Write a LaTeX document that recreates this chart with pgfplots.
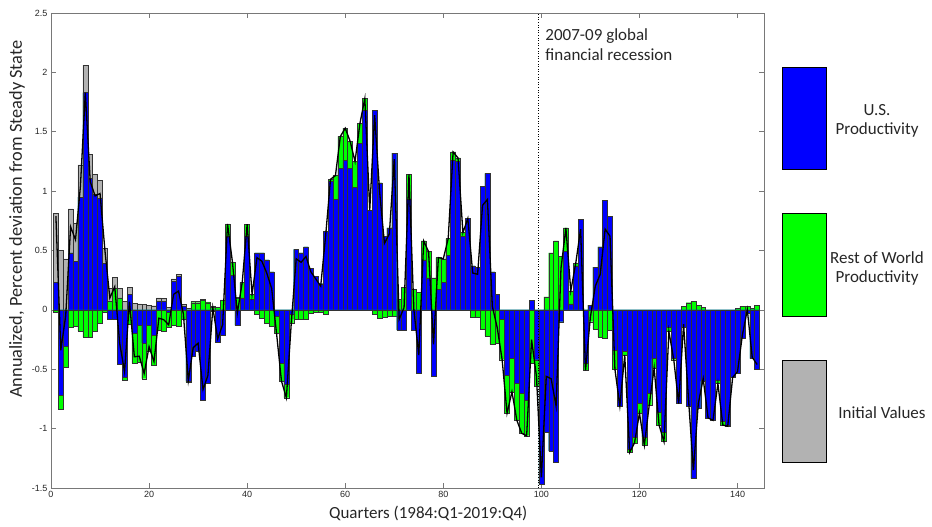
\documentclass[border=0pt]{standalone}
\usepackage{fontspec}
\setmainfont{Carlito}
\newfontfamily\ticksfont{Liberation Sans}
\usepackage{pgfplots}
\usepackage{pgfplotstable}
\pgfplotsset{compat=1.18}
\definecolor{usblue}{RGB}{0,0,255}
\definecolor{rowgreen}{RGB}{0,255,0}
\definecolor{initgray}{RGB}{178,178,178}
\definecolor{axgray}{RGB}{120,120,120}

% k = quarter, b = U.S. productivity, g = rest of world, a = initial values,
% d = gap between the black line and the sum of the bars
\pgfplotstableread{
k b g a d
1 0.23 -0.02 0.58 0
2 -0.72 -0.12 0.50 0
3 -0.31 -0.17 0.43 0
4 0.48 -0.15 0.37 0
5 0.41 -0.14 0.32 0
6 0.95 -0.18 0.27 0
7 1.83 -0.23 0.23 0
8 1.11 -0.23 0.20 0
9 0.97 -0.18 0.17 0
10 0.94 -0.11 0.15 0
11 0.39 -0.02 0.13 0
12 -0.08 0.07 0.11 0
13 -0.08 0.18 0.095 0
14 -0.46 0.10 0.08 0
15 -0.57 -0.02 0.07 0
16 0.13 -0.12 0.06 0
17 -0.20 -0.25 0.055 0
18 -0.13 -0.31 0.05 0
19 -0.28 -0.30 0.045 0
20 -0.13 -0.22 0.04 0
21 -0.21 -0.26 0.035 0
22 0.07 -0.17 0.03 0
23 0.07 -0.18 0.027 0
24 -0.02 -0.13 0.024 0
25 0.24 -0.13 0.021 0
26 0.28 -0.14 0.018 0
27 0.03 -0.08 0.016 0
28 -0.60 -0.01 0.014 0
29 -0.39 0.06 0.012 0
30 -0.35 0.06 0.010 0
31 -0.76 0.08 0.009 0
32 -0.62 0.06 0.008 0
33 -0.01 0.02 0.007 0
34 -0.27 0.02 0.006 0
35 -0.21 0.08 0.005 0
36 0.62 0.10 0.004 0
37 0.29 0.11 0.003 0
38 -0.13 0.10 0.003 0
39 0.10 0.13 0.002 0
40 0.62 0.10 0.002 0
41 0.09 0.04 0 0
42 0.48 -0.04 0 0
43 0.48 -0.07 0 0
44 0.42 -0.11 0 0
45 0.32 -0.14 0 0
46 -0.05 -0.15 0 0
47 -0.45 -0.15 0 0
48 -0.63 -0.11 0 0
49 -0.04 -0.07 0 0
50 0.51 -0.08 0 0
51 0.48 -0.08 0 0
52 0.53 -0.08 0 0
53 0.35 -0.03 0 0
54 0.28 -0.02 0 0
55 0.22 -0.02 0 0
56 0.66 -0.04 0 0
57 1.08 0.02 0 0
58 0.93 0.20 0 0
59 1.19 0.27 0 0
60 1.26 0.27 0 0
61 1.19 0.23 0 0
62 1.03 0.22 0 0
63 1.40 0.17 0 0
64 1.68 0.10 0 0
65 0.84 0 0 0
66 1.68 -0.04 0 0
67 1.07 -0.07 0 0
68 0.62 -0.06 0 0
69 0.69 -0.05 0 0
70 1.32 -0.05 0 0
71 -0.17 0.09 0 0
72 -0.17 0.19 0 0
73 0.93 0.21 0 0
74 -0.17 0.17 0 0
75 -0.53 0.15 0 0
76 0.42 0.16 0 0
77 0.27 0.22 0 0
78 -0.56 0.27 0 0
79 0.17 0.27 0 0
80 0.23 0.20 0 0
81 0.46 0.14 0 0
82 1.26 0.07 0 0
83 1.25 0.03 0 0
84 0.62 0.03 0 0
85 0.77 0 0 0
86 0.37 -0.06 0 0
87 0.36 -0.06 0 0
88 1.04 -0.16 0 0
89 1.15 -0.22 0 0
90 0.32 -0.29 0 0
91 0.13 -0.28 0 0
92 -0.08 -0.34 0 0
93 -0.55 -0.32 0 0
94 -0.41 -0.28 0 0
95 -0.62 -0.31 0 0
96 -0.70 -0.34 0 0
97 -0.76 -0.30 0 0
98 0.08 -0.45 0 0.12
99 -0.42 -0.22 0 0.08
100 -1.47 0 0 0.06
101 -1.03 0.11 0 0.36
102 -1.19 0.48 0 0.13
103 -1.28 0.58 0 -0.11
104 -0.10 0.45 0 0
105 0.49 0.20 0 0
106 0.05 0.11 0 0
107 0.37 0.02 0 0
108 0.76 0 0 -0.08
109 -0.45 -0.06 0 0
110 0.04 -0.10 0 0
111 0.36 -0.16 0 0
112 0.53 -0.23 0 0
113 0.92 -0.24 0 0
114 0.79 -0.17 0 0
115 -0.34 -0.16 0 0
116 -0.81 0 0 0
117 -0.35 -0.03 0 0
118 -1.17 -0.03 0 0
119 -1.07 -0.05 0 0
120 -0.79 -0.08 0 0
121 -1.07 -0.07 0 0
122 -0.70 -0.10 0 0
123 -0.41 -0.08 0 0
124 -0.86 -0.11 0 0
125 -1.03 -0.08 0 0
126 -0.15 -0.03 0 0
127 -0.41 -0.01 0 0
128 -0.79 0 0 0
129 -0.15 0.03 0 0
130 -0.81 0.06 0 0
131 -1.42 0.07 0 0
132 -0.83 0.04 0 0
133 -0.60 0.02 0 0
134 -0.91 0 0 0
135 -0.93 0 0 0
136 -0.59 -0.03 0 0
137 -0.94 -0.03 0 0
138 -0.97 -0.01 0 0
139 -0.57 0 0 0
140 -0.53 0.01 0 0
141 -0.24 0.03 0 0
142 -0.03 0.03 0 0
143 -0.41 0.01 0 0
144 -0.50 0.04 0 0
}\decomp

\pgfplotsset{decbar/.style={ybar, bar width=1, bar shift=0pt, draw=black!80, line width=0.4pt}}

\begin{document}
\begin{tikzpicture}
\useasboundingbox (-51pt,-39pt) rectangle (881pt,488pt);
\begin{axis}[
  at={(0,0)}, anchor=south west,
  scale only axis, width=713pt, height=475pt,
  xmin=0, xmax=145.4, ymin=-1.5, ymax=2.5,
  xtick={0,20,...,140}, ytick={-1.5,-1,...,2.5},
  tick align=inside, major tick length=5pt,
  axis line style={axgray, line width=0.5pt},
  tick style={axgray, line width=0.5pt},
  tick label style={font=\ticksfont\fontsize{9}{10}\selectfont, text=black!85},
  /pgf/number format/assume math mode=true,
  yticklabel style={/pgf/number format/fixed},
  xlabel={Quarters (1984:Q1-2019:Q4)},
  ylabel={Annualized, Percent deviation from Steady State},
  label style={text=black!85},
  xlabel style={font=\fontsize{17}{19}\selectfont, at={(axis description cs:0.529,-0.0526)}, anchor=center},
  ylabel style={font=\fontsize{18.3}{20}\selectfont, at={(axis description cs:-0.0477,0.566)}, anchor=center},
]
% positive parts, stacked upward
\addplot[decbar, fill=initgray] table[x=k, y expr={max(\thisrow{b},0)+max(\thisrow{g},0)+max(\thisrow{a},0)}] {\decomp};
\addplot[decbar, fill=rowgreen] table[x=k, y expr={max(\thisrow{b},0)+max(\thisrow{g},0)}] {\decomp};
\addplot[decbar, fill=usblue] table[x=k, y expr={max(\thisrow{b},0)}] {\decomp};
% negative parts, stacked downward
\addplot[decbar, fill=rowgreen] table[x=k, y expr={min(\thisrow{b},0)+min(\thisrow{g},0)}] {\decomp};
\addplot[decbar, fill=usblue] table[x=k, y expr={min(\thisrow{b},0)}] {\decomp};
% total
\addplot[black, line width=1.3pt, mark=none] table[x=k, y expr={\thisrow{b}+\thisrow{g}+\thisrow{a}+\thisrow{d}}] {\decomp};
\draw[black, dotted, line width=0.6pt] (axis cs:99.3,-1.5) -- (axis cs:99.3,2.5);
\node[anchor=north west, align=left, inner sep=0pt, font=\fontsize{17}{20}\selectfont, text=black!85]
  at (axis cs:100.8,2.37) {2007-09 global\\financial recession};
\end{axis}
% legend
\draw[black, line width=0.5pt, fill=usblue] (731pt,319pt) rectangle (775pt,421pt);
\draw[black, line width=0.5pt, fill=rowgreen] (731pt,172pt) rectangle (775pt,275pt);
\draw[black, line width=0.5pt, fill=initgray] (731pt,26pt) rectangle (775pt,128pt);
\begin{scope}[every node/.style={align=center, font=\fontsize{17}{19}\selectfont, text=black!85}]
\node at (826pt,367pt) {U.S.\\Productivity};
\node at (826pt,220pt) {Rest of World\\Productivity};
\node at (831pt,75pt) {Initial Values};
\end{scope}
\end{tikzpicture}
\end{document}
